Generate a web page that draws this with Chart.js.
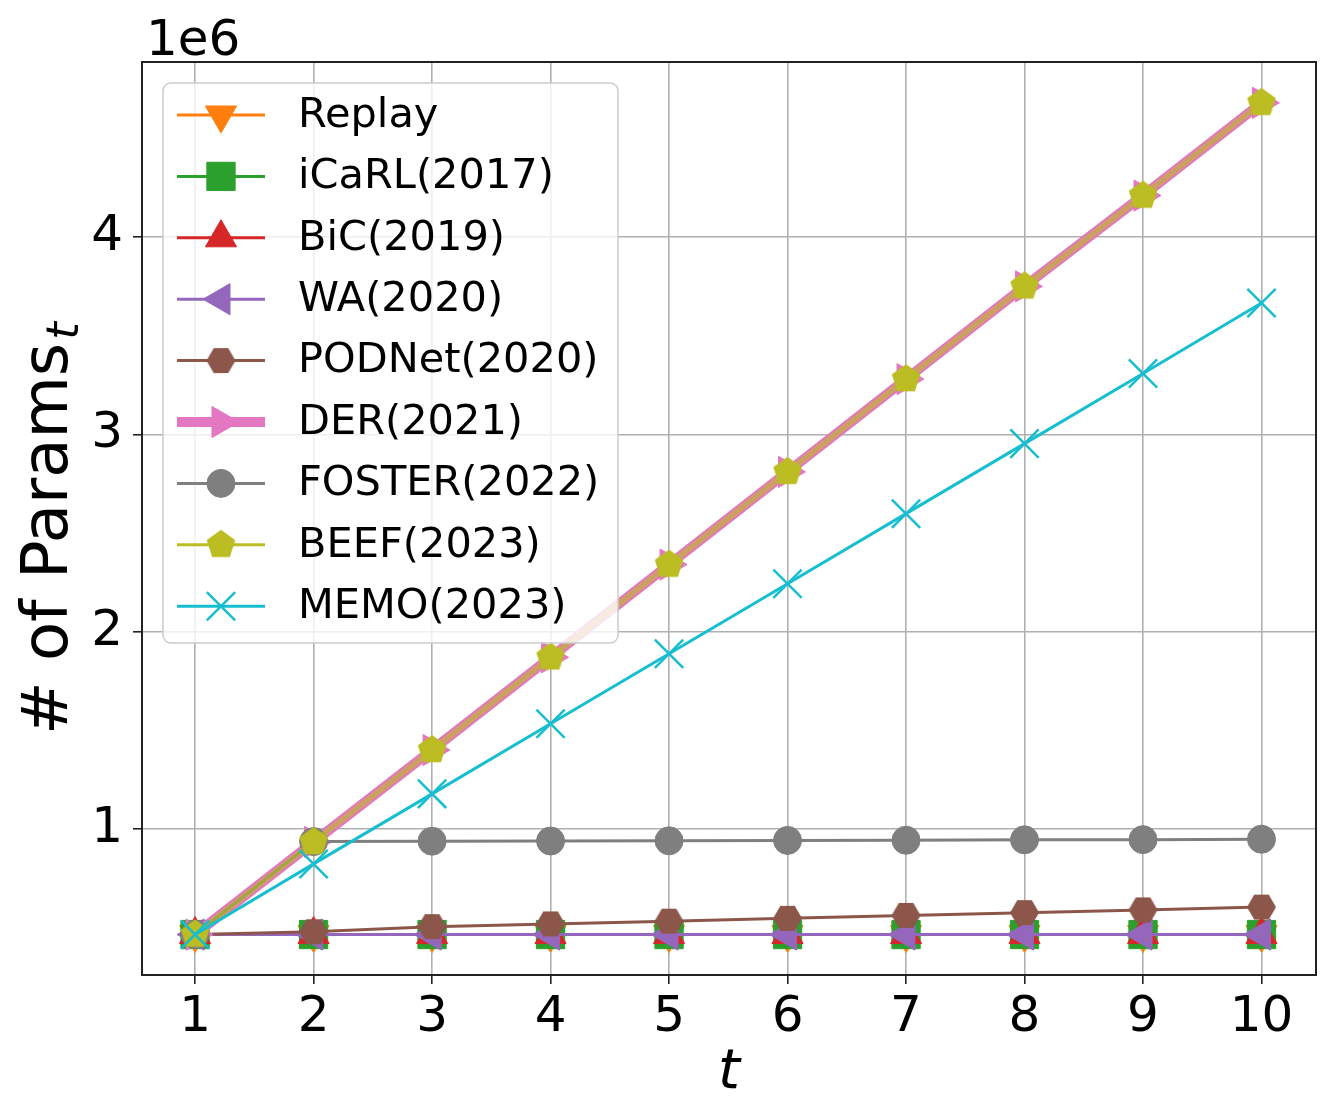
<!DOCTYPE html>
<html>
<head>
<meta charset="utf-8">
<script src="https://cdn.jsdelivr.net/npm/chart.js@4.4.1/dist/chart.umd.min.js"></script>
<style>
  html, body { margin: 0; padding: 0; background: #fff; overflow: hidden; }
  canvas { display: block; }
</style>
</head>
<body>
<canvas id="graph_canvas" width="1329" height="1114" style="width:1329px;height:1114px"></canvas>
<script>
// tasks t and number of parameters (in millions, axis shows 1e6 offset)
var tasks  = [1, 2, 3, 4, 5, 6, 7, 8, 9, 10];
var replay = [0.465, 0.465, 0.465, 0.465, 0.465, 0.465, 0.465, 0.465, 0.465, 0.465];
var icarl  = [0.465, 0.465, 0.465, 0.465, 0.465, 0.465, 0.465, 0.465, 0.465, 0.465];
var bic    = [0.465, 0.465, 0.465, 0.465, 0.465, 0.465, 0.465, 0.465, 0.465, 0.465];
var wa     = [0.465, 0.465, 0.465, 0.465, 0.465, 0.465, 0.465, 0.465, 0.465, 0.465];
var podnet = [0.465, 0.479, 0.505, 0.519, 0.533, 0.547, 0.562, 0.576, 0.590, 0.604];
var der    = [0.465, 0.934, 1.40, 1.87, 2.34, 2.81, 3.28, 3.75, 4.21, 4.68];
var foster = [0.465, 0.936, 0.938, 0.939, 0.940, 0.942, 0.943, 0.945, 0.946, 0.948];
var beef   = [0.465, 0.934, 1.40, 1.87, 2.34, 2.81, 3.28, 3.75, 4.21, 4.68];
var memo   = [0.465, 0.823, 1.178, 1.533, 1.888, 2.243, 2.598, 2.953, 3.308, 3.666];

var xTicks = [1, 2, 3, 4, 5, 6, 7, 8, 9, 10];
var yTicks = [1, 2, 3, 4];

function polygonMarker(sides, r, color, flatTop) {
  var c = document.createElement('canvas');
  var s = Math.ceil(r * 2 + 4);
  c.width = s; c.height = s;
  var g = c.getContext('2d');
  g.fillStyle = color;
  g.beginPath();
  for (var i = 0; i < sides; i++) {
    var ang = -Math.PI / 2 + (flatTop ? Math.PI / sides : 0) + i * 2 * Math.PI / sides;
    var px = s / 2 + r * Math.cos(ang), py = s / 2 + r * Math.sin(ang);
    if (i === 0) g.moveTo(px, py); else g.lineTo(px, py);
  }
  g.closePath();
  g.fill();
  return c;
}

function pts(vals) {
  return tasks.map(function (t, i) { return { x: t, y: vals[i] }; });
}

function series(label, vals, color, marker, extra) {
  var ds = {
    label: label,
    data: pts(vals),
    borderColor: color,
    borderWidth: 3,
    pointStyle: marker,
    pointRadius: 18,
    pointRotation: 0,
    pointBackgroundColor: color,
    pointBorderColor: color,
    pointBorderWidth: 1,
    fill: false,
    tension: 0
  };
  for (var k in extra) ds[k] = extra[k];
  return ds;
}

var datasets = [
  series('Replay', replay, '#ff7f0e', 'triangle', { pointRotation: 180 }),
  series('iCaRL(2017)', icarl, '#2ca02c', 'rect', { pointRadius: 20 }),
  series('BiC(2019)', bic, '#d62728', 'triangle', {}),
  series('WA(2020)', wa, '#9467bd', 'triangle', { pointRotation: -90 }),
  series('PODNet(2020)', podnet, '#8c564b', polygonMarker(6, 14.5, '#8c564b', true), {}),
  series('DER(2021)', der, '#e377c2', 'triangle', { pointRotation: 90, borderWidth: 10 }),
  series('FOSTER(2022)', foster, '#7f7f7f', 'circle', { pointRadius: 14 }),
  series('BEEF(2023)', beef, 'rgba(188,189,34,0.6)', polygonMarker(5, 15, '#bcbd22', false),
         { borderWidth: 6, pointBackgroundColor: '#bcbd22', pointBorderColor: '#bcbd22', legendColor: '#bcbd22', legendWidth: 3 }),
  series('MEMO(2023)', memo, '#17becf', 'crossRot', { pointRadius: 20, pointBorderWidth: 2.5 })
];
datasets.forEach(function (ds, i) { ds.order = datasets.length - i; });

var extras = {
  id: 'extras',
  afterDraw: function (chart) {
    var ctx = chart.ctx, a = chart.chartArea;
    ctx.save();
    // axes frame
    ctx.strokeStyle = '#222';
    ctx.lineWidth = 2;
    ctx.strokeRect(a.left, a.top, a.right - a.left, a.bottom - a.top);

    // legend box
    var lx = a.left + 21, ly = a.top + 21, lw = 455, lh = 560, rr = 8;
    ctx.beginPath();
    ctx.moveTo(lx + rr, ly);
    ctx.arcTo(lx + lw, ly, lx + lw, ly + lh, rr);
    ctx.arcTo(lx + lw, ly + lh, lx, ly + lh, rr);
    ctx.arcTo(lx, ly + lh, lx, ly, rr);
    ctx.arcTo(lx, ly, lx + lw, ly, rr);
    ctx.closePath();
    ctx.fillStyle = 'rgba(255,255,255,0.8)';
    ctx.fill();
    ctx.strokeStyle = '#cccccc';
    ctx.lineWidth = 1.5;
    ctx.stroke();

    chart.data.datasets.forEach(function (ds, i) {
      var y = ly + 32 + i * 61.4;
      ctx.beginPath();
      ctx.moveTo(lx + 14, y);
      ctx.lineTo(lx + 102, y);
      ctx.strokeStyle = ds.legendColor || ds.borderColor;
      ctx.lineWidth = ds.legendWidth || ds.borderWidth;
      ctx.stroke();
      ctx.fillStyle = ds.pointBackgroundColor;
      ctx.strokeStyle = ds.pointBorderColor;
      ctx.lineWidth = ds.pointBorderWidth;
      Chart.helpers.drawPoint(ctx, {
        pointStyle: ds.pointStyle,
        rotation: ds.pointRotation,
        radius: ds.pointRadius,
        borderWidth: ds.pointBorderWidth
      }, lx + 58, y);
      ctx.fillStyle = '#000';
      ctx.font = '41.5px "DejaVu Sans"';
      ctx.textAlign = 'left';
      ctx.textBaseline = 'middle';
      ctx.fillText(ds.label, lx + 135, y + 1);
    });

    // offset text, axis titles
    ctx.fillStyle = '#000';
    ctx.textBaseline = 'alphabetic';
    ctx.textAlign = 'left';
    ctx.font = '50px "DejaVu Sans"';
    ctx.fillText('1e6', a.left + 4, a.top - 7);

    ctx.textAlign = 'center';
    ctx.font = 'italic 56px "DejaVu Sans"';
    ctx.fillText('t', (a.left + a.right) / 2, 1088);

    ctx.translate(67, 735);
    ctx.rotate(-Math.PI / 2);
    ctx.textAlign = 'left';
    ctx.font = '64px "DejaVu Sans"';
    ctx.fillText('# of Params', 0, 0);
    var w = ctx.measureText('# of Params').width;
    ctx.font = 'italic 45px "DejaVu Sans"';
    ctx.fillText('t', w + 3, 11);
    ctx.restore();
  }
};

var gridOpts = {
  color: '#b0b0b0',
  lineWidth: 1.6,
  drawTicks: true,
  tickLength: 9,
  tickColor: '#222',
  tickWidth: 1.6
};

window.onload = function () {
  var graph_ctx = document.getElementById('graph_canvas').getContext('2d');
  window.params_graph = new Chart(graph_ctx, {
    type: 'line',
    data: { datasets: datasets },
    options: {
      responsive: false,
      devicePixelRatio: 1,
      animation: false,
      layout: { autoPadding: false, padding: { top: 62, right: 13, left: 0, bottom: 0 } },
      plugins: { legend: { display: false }, tooltip: { enabled: false } },
      scales: {
        x: {
          type: 'linear',
          min: 0.552,
          max: 10.46,
          afterBuildTicks: function (scale) { scale.ticks = xTicks.map(function (v) { return { value: v }; }); },
          afterFit: function (scale) {
            scale.height = 139;
            scale.paddingLeft = 0; scale.paddingRight = 0;
          },
          grid: gridOpts,
          border: { display: false },
          ticks: {
            autoSkip: false, maxRotation: 0, padding: 4, color: '#000',
            font: { family: 'DejaVu Sans', size: 50 },
            callback: function (v) { return String(v); }
          }
        },
        y: {
          type: 'linear',
          min: 0.26,
          max: 4.887,
          afterBuildTicks: function (scale) { scale.ticks = yTicks.map(function (v) { return { value: v }; }); },
          afterFit: function (scale) {
            scale.width = 142;
            scale.paddingTop = 0; scale.paddingBottom = 0;
          },
          grid: gridOpts,
          border: { display: false },
          ticks: {
            autoSkip: false, padding: 10, color: '#000',
            font: { family: 'DejaVu Sans', size: 50 },
            callback: function (v) { return String(v); }
          }
        }
      }
    },
    plugins: [extras]
  });
};
</script>
</body>
</html>
